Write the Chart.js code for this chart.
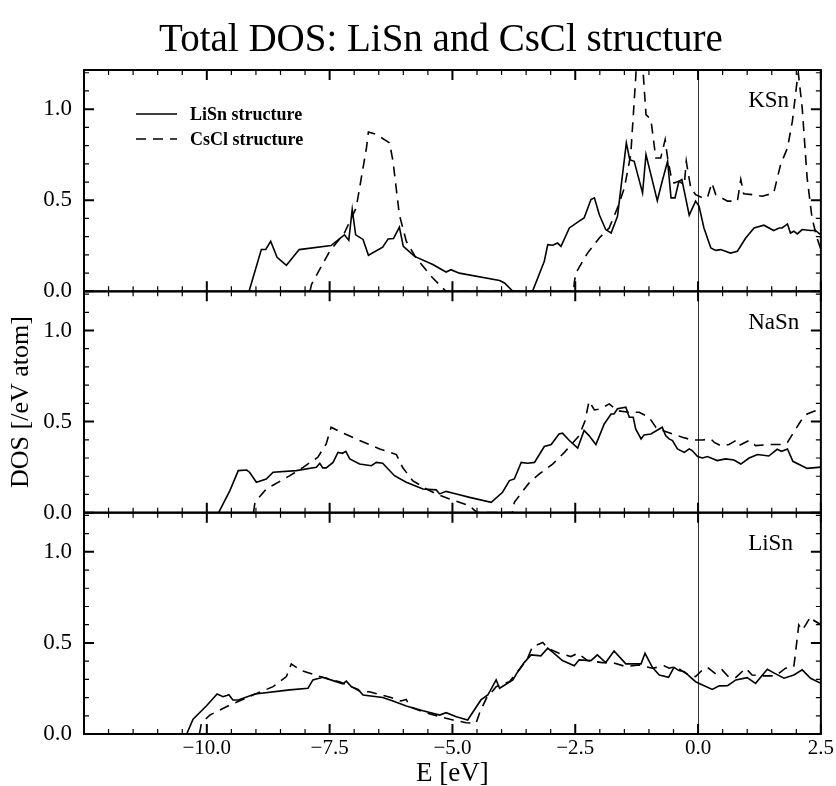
<!DOCTYPE html>
<html>
<head>
<meta charset="utf-8">
<title>Total DOS: LiSn and CsCl structure</title>
<script src="https://cdn.jsdelivr.net/npm/chart.js@4.4.1/dist/chart.umd.min.js"></script>
<style>
  html, body { margin: 0; padding: 0; background: #fff; }
  canvas { display: block; }
</style>
</head>
<body>
<canvas id="dos-chart" width="836" height="786"></canvas>
<script>
// Series and panel names
const chartTitle = 'Total DOS: LiSn and CsCl structure';
const seriesNames = ['LiSn structure', 'CsCl structure'];
const panelNames = ['KSn', 'NaSn', 'LiSn'];

// Tick labels
const xTickValues = [-10, -7.5, -5, -2.5, 0, 2.5];
const yTickValues = [0, 0.5, 1.0];

// [E (eV), DOS], one list per curve
const kSnLiSn = [[-9.14,0],[-8.89,0.23],[-8.80,0.23],[-8.70,0.275],[-8.57,0.187],[-8.38,0.143],[-8.12,0.229],[-7.47,0.251],
  [-7.20,0.31],[-7.11,0.28],[-7.04,0.45],[-6.97,0.31],[-6.82,0.285],[-6.71,0.198],[-6.42,0.242],[-6.31,0.287],[-6.20,0.29],
  [-6.08,0.353],[-6.00,0.247],[-5.77,0.192],[-5.40,0.147],[-5.13,0.106],[-5.03,0.119],[-4.86,0.10],[-4.04,0.059],[-3.94,0.046],
  [-3.77,0],[-3.37,0],[-3.13,0.165],[-3.06,0.256],[-2.96,0.253],[-2.86,0.265],[-2.79,0.247],[-2.62,0.348],[-2.42,0.385],
  [-2.32,0.403],[-2.18,0.504],[-2.11,0.513],[-2.01,0.42],[-1.88,0.339],[-1.77,0.32],[-1.64,0.412],[-1.46,0.815],[-1.39,0.723],
  [-1.30,0.714],[-1.13,0.54],[-1.06,0.751],[-0.83,0.498],[-0.73,0.604],[-0.62,0.714],[-0.55,0.513],[-0.47,0.513],[-0.39,0.604],
  [-0.33,0.614],[-0.18,0.418],[-0.05,0.495],[0.02,0.467],[0.12,0.348],[0.26,0.238],[0.36,0.225],[0.46,0.229],[0.66,0.21],
  [0.80,0.22],[0.97,0.293],[1.14,0.348],[1.34,0.363],[1.54,0.334],[1.65,0.348],[1.71,0.348],[1.82,0.37],[1.88,0.32],[1.95,0.33],
  [2.02,0.315],[2.12,0.339],[2.29,0.334],[2.39,0.334],[2.5,0.31]];

const kSnCsCl = [[-7.90,0],[-7.87,0.037],[-7.50,0.22],[-7.20,0.32],[-6.96,0.458],[-6.75,0.787],[-6.71,0.875],[-6.55,0.861],
  [-6.28,0.815],[-6.21,0.714],[-6.08,0.42],[-5.94,0.275],[-5.74,0.183],[-5.40,0.073],[-5.13,0],[-2.53,0],[-2.52,0.046],
  [-2.49,0.10],[-2.25,0.21],[-2.01,0.293],[-1.81,0.348],[-1.64,0.458],[-1.50,0.568],[-1.37,0.751],[-1.27,1.17],[-1.21,1.45],
  [-1.13,1.25],[-1.06,0.97],[-0.96,0.943],[-0.86,0.732],[-0.76,0.732],[-0.67,0.833],[-0.62,0.732],[-0.55,0.632],[-0.49,0.595],
  [-0.39,0.604],[-0.28,0.586],[-0.24,0.714],[-0.15,0.568],[-0.05,0.531],[0.09,0.513],[0.19,0.513],[0.28,0.595],[0.36,0.531],
  [0.60,0.495],[0.80,0.495],[0.87,0.614],[0.93,0.535],[1.10,0.531],[1.31,0.522],[1.54,0.54],[1.68,0.696],[1.82,0.787],
  [1.92,0.934],[2.02,1.163],[2.04,1.2],[2.12,1.007],[2.22,0.623],[2.32,0.403],[2.42,0.293],[2.5,0.23]];

const naSnLiSn = [[-9.76,0],[-9.53,0.121],[-9.36,0.231],[-9.19,0.234],[-9.13,0.222],[-8.99,0.167],[-8.79,0.185],[-8.65,0.222],
  [-8.18,0.231],[-7.77,0.249],[-7.70,0.271],[-7.64,0.246],[-7.57,0.246],[-7.43,0.276],[-7.33,0.331],[-7.24,0.326],[-7.17,0.337],
  [-7.09,0.295],[-6.89,0.267],[-6.65,0.258],[-6.55,0.276],[-6.42,0.271],[-6.18,0.203],[-5.94,0.167],[-5.60,0.130],[-5.33,0.125],
  [-5.26,0.103],[-5.13,0.117],[-4.92,0.103],[-4.65,0.084],[-4.21,0.057],[-3.98,0.112],[-3.84,0.176],[-3.74,0.185],[-3.60,0.276],
  [-3.47,0.271],[-3.33,0.276],[-3.13,0.363],[-2.99,0.374],[-2.83,0.432],[-2.76,0.436],[-2.62,0.396],[-2.45,0.355],[-2.32,0.451],
  [-2.22,0.423],[-2.08,0.374],[-1.91,0.487],[-1.77,0.542],[-1.71,0.542],[-1.64,0.57],[-1.47,0.579],[-1.40,0.524],[-1.32,0.524],
  [-1.27,0.46],[-1.16,0.405],[-1.10,0.427],[-0.96,0.432],[-0.73,0.469],[-0.66,0.423],[-0.59,0.405],[-0.52,0.396],[-0.42,0.35],
  [-0.28,0.331],[-0.18,0.35],[-0.12,0.341],[-0.01,0.308],[0.09,0.300],[0.19,0.308],[0.39,0.286],[0.56,0.295],[0.73,0.289],
  [0.87,0.267],[1.04,0.300],[1.21,0.319],[1.44,0.311],[1.61,0.348],[1.70,0.337],[1.82,0.35],[1.93,0.282],[2.22,0.243],[2.5,0.25]];

const naSnCsCl = [[-9.05,0],[-9.02,0.057],[-8.79,0.13],[-8.31,0.203],[-8.04,0.249],[-7.74,0.304],[-7.57,0.377],[-7.47,0.469],
  [-7.26,0.441],[-6.89,0.396],[-6.48,0.35],[-6.14,0.319],[-6.01,0.246],[-5.81,0.176],[-5.53,0.13],[-5.33,0.103],[-5.06,0.075],
  [-4.65,0.038],[-4.50,0],[-3.78,0],[-3.74,0.057],[-3.43,0.167],[-3.23,0.213],[-2.96,0.267],[-2.72,0.331],[-2.42,0.423],
  [-2.30,0.505],[-2.22,0.612],[-2.11,0.564],[-1.98,0.57],[-1.81,0.597],[-1.64,0.56],[-1.40,0.551],[-1.20,0.551],[-1.00,0.524],
  [-0.86,0.469],[-0.73,0.451],[-0.52,0.432],[-0.32,0.414],[-0.12,0.399],[0.09,0.399],[0.26,0.405],[0.33,0.386],[0.46,0.368],
  [0.63,0.374],[0.77,0.396],[0.83,0.368],[1.04,0.396],[1.17,0.368],[1.44,0.374],[1.71,0.374],[1.82,0.386],[1.99,0.46],
  [2.12,0.515],[2.22,0.542],[2.36,0.557],[2.42,0.56],[2.5,0.53]];

const liSnLiSn = [[-10.41,0],[-10.28,0.081],[-10.01,0.154],[-9.79,0.22],[-9.67,0.205],[-9.55,0.216],[-9.47,0.187],[-9.36,0.187],
  [-9.02,0.22],[-8.31,0.242],[-7.94,0.251],[-7.84,0.297],[-7.64,0.311],[-7.43,0.293],[-7.23,0.275],[-7.16,0.29],[-7.06,0.26],
  [-6.92,0.245],[-6.82,0.214],[-6.42,0.2],[-6.21,0.181],[-5.94,0.154],[-5.60,0.128],[-5.26,0.104],[-5.13,0.117],[-4.92,0.095],
  [-4.69,0.077],[-4.42,0.187],[-4.28,0.214],[-4.11,0.297],[-4.04,0.251],[-3.77,0.297],[-3.67,0.342],[-3.54,0.392],[-3.40,0.434],
  [-3.20,0.429],[-3.06,0.471],[-2.93,0.443],[-2.76,0.403],[-2.52,0.375],[-2.42,0.407],[-2.18,0.403],[-2.05,0.434],[-1.88,0.392],
  [-1.71,0.456],[-1.47,0.385],[-1.16,0.385],[-1.08,0.443],[-0.93,0.366],[-0.79,0.324],[-0.60,0.311],[-0.49,0.366],[-0.39,0.348],
  [-0.28,0.342],[-0.05,0.287],[0.09,0.269],[0.29,0.245],[0.43,0.264],[0.60,0.265],[0.77,0.297],[1.00,0.309],[1.17,0.278],
  [1.41,0.355],[1.58,0.33],[1.75,0.306],[1.95,0.324],[2.12,0.352],[2.29,0.306],[2.5,0.278]];

const liSnCsCl = [[-10.15,0],[-10.11,0.059],[-9.94,0.104],[-9.53,0.159],[-9.06,0.214],[-8.65,0.26],[-8.38,0.315],[-8.28,0.385],
  [-8.08,0.348],[-7.64,0.311],[-7.30,0.287],[-7.09,0.264],[-6.86,0.232],[-6.69,0.232],[-6.25,0.2],[-6.05,0.181],[-5.94,0.19],
  [-5.87,0.15],[-5.60,0.122],[-5.26,0.095],[-4.99,0.077],[-4.72,0.062],[-4.52,0.059],[-4.45,0.114],[-4.31,0.196],[-4.11,0.26],
  [-3.84,0.287],[-3.64,0.352],[-3.47,0.416],[-3.37,0.48],[-3.16,0.502],[-3.06,0.471],[-2.83,0.443],[-2.59,0.425],[-2.45,0.443],
  [-2.25,0.403],[-1.95,0.392],[-1.74,0.392],[-1.47,0.37],[-1.20,0.379],[-0.93,0.361],[-0.69,0.374],[-0.59,0.361],[-0.45,0.37],
  [-0.25,0.333],[-0.05,0.315],[0.09,0.352],[0.19,0.366],[0.36,0.33],[0.49,0.352],[0.63,0.311],[0.77,0.311],[0.97,0.361],
  [1.10,0.324],[1.31,0.319],[1.58,0.319],[1.78,0.361],[1.95,0.37],[1.99,0.461],[2.05,0.599],[2.12,0.571],[2.19,0.599],
  [2.29,0.644],[2.36,0.623],[2.5,0.6]];

const SERIF = '"Liberation Serif", "Times New Roman", serif';
const Y_MAX = 1.215;
const DASH = [10, 7];

// panels from top to bottom
const panelAxes = ['yK', 'yNa', 'yLi'];
const panelSeries = [[kSnLiSn, kSnCsCl], [naSnLiSn, naSnCsCl], [liSnLiSn, liSnCsCl]];

const datasets = [];
panelAxes.forEach((axisId, p) => {
    panelSeries[p].forEach((points, s) => {
        datasets.push({
            label: panelNames[p] + ': ' + seriesNames[s],
            data: points.map(pt => ({ x: pt[0], y: pt[1] })),
            yAxisID: axisId,
            borderColor: '#000',
            borderWidth: 1.6,
            borderDash: s === 1 ? DASH : [],
            pointRadius: 0,
            tension: 0,
            fill: false
        });
    });
});

function panelAxis(showTitle) {
    return {
        type: 'linear',
        position: 'left',
        stack: 'dos',
        stackWeight: 1,
        min: 0,
        max: Y_MAX,
        offset: false,
        grid: { display: false, drawTicks: false },
        border: { display: false },
        afterFit: scale => { scale.width = 84; },
        afterBuildTicks: scale => { scale.ticks = yTickValues.map(v => ({ value: v })); },
        ticks: {
            color: '#000',
            padding: 12,
            font: { family: SERIF, size: 23 },
            callback: v => v.toFixed(1)
        },
        title: {
            display: showTitle,
            text: 'DOS [/eV atom]',
            color: '#000',
            font: { family: SERIF, size: 26 },
            padding: { top: 6, bottom: 0 }
        }
    };
}

// title, frame, inward ticks, E=0 line, panel names and the legend
const framePlugin = {
    id: 'dosFrame',
    beforeDatasetsDraw(chart) {
        const { ctx, chartArea, scales } = chart;
        const x0 = Math.round(scales.x.getPixelForValue(0)) + 0.5;
        ctx.save();
        ctx.strokeStyle = '#333';
        ctx.lineWidth = 1;
        ctx.beginPath();
        ctx.moveTo(x0, chartArea.top);
        ctx.lineTo(x0, chartArea.bottom);
        ctx.stroke();
        ctx.restore();
    },
    afterDatasetsDraw(chart) {
        const { ctx, scales } = chart;
        const xs = scales.x;
        ctx.save();
        ctx.strokeStyle = '#000';
        ctx.fillStyle = '#000';

        ctx.font = '39px ' + SERIF;
        ctx.textAlign = 'center';
        ctx.textBaseline = 'alphabetic';
        ctx.fillText(chartTitle, 441, 51);

        panelAxes.forEach((axisId, p) => {
            const ys = scales[axisId];
            for (let k = 0; k <= 30; k++) {
                const major = k % 5 === 0;
                const len = major ? 10 : 5;
                const px = xs.getPixelForValue(-12.5 + k * 0.5);
                ctx.lineWidth = major ? 2 : 1.2;
                ctx.beginPath();
                ctx.moveTo(px, ys.bottom);
                ctx.lineTo(px, ys.bottom - len);
                ctx.moveTo(px, ys.top);
                ctx.lineTo(px, ys.top + len);
                ctx.stroke();
            }
            for (let k = 0; k <= 12; k++) {
                const major = k % 5 === 0;
                const len = major ? 10 : 5;
                const py = ys.getPixelForValue(k / 10);
                ctx.lineWidth = major ? 2 : 1.2;
                ctx.beginPath();
                ctx.moveTo(xs.left, py);
                ctx.lineTo(xs.left + len, py);
                ctx.moveTo(xs.right, py);
                ctx.lineTo(xs.right - len, py);
                ctx.stroke();
            }
            ctx.lineWidth = 2;
            ctx.strokeRect(xs.left, ys.top, xs.right - xs.left, ys.bottom - ys.top);

            ctx.font = '23px ' + SERIF;
            ctx.textAlign = 'left';
            ctx.textBaseline = 'alphabetic';
            ctx.fillText(panelNames[p], xs.getPixelForValue(1.02), ys.getPixelForValue(1.01));
        });

        // legend inside the top panel
        const topAxis = scales[panelAxes[0]];
        const lx = xs.left + 52;
        const rows = [topAxis.top + 44, topAxis.top + 69];
        seriesNames.forEach((name, i) => {
            ctx.lineWidth = 1.6;
            ctx.setLineDash(i === 1 ? DASH : []);
            ctx.beginPath();
            ctx.moveTo(lx, rows[i]);
            ctx.lineTo(lx + 41, rows[i]);
            ctx.stroke();
            ctx.setLineDash([]);
            ctx.font = 'bold 18px ' + SERIF;
            ctx.textBaseline = 'middle';
            ctx.fillText(name, lx + 54, rows[i] + 1);
        });
        ctx.restore();
    }
};

const ctx = document.getElementById('dos-chart').getContext('2d');
new Chart(ctx, {
    type: 'line',
    data: { datasets: datasets },
    options: {
        responsive: false,
        animation: false,
        layout: { padding: { top: 70, right: 14 } },
        plugins: {
            legend: { display: false },
            tooltip: { enabled: false },
            title: { display: false }
        },
        scales: {
            x: {
                type: 'linear',
                min: -12.5,
                max: 2.5,
                grid: { display: false, drawTicks: false },
                border: { display: false },
                afterFit: scale => { scale.height = 52; },
                afterBuildTicks: scale => { scale.ticks = xTickValues.map(v => ({ value: v })); },
                ticks: {
                    color: '#000',
                    padding: 2,
                    maxRotation: 0,
                    autoSkip: false,
                    font: { family: SERIF, size: 21 },
                    callback: v => v.toFixed(1).replace('-', '\u2212')
                },
                title: {
                    display: true,
                    text: 'E [eV]',
                    color: '#000',
                    font: { family: SERIF, size: 27, lineHeight: 0.9 },
                    padding: 0
                }
            },
            // later-defined axes stack higher up
            yLi: panelAxis(false),
            yNa: panelAxis(true),
            yK: panelAxis(false)
        }
    },
    plugins: [framePlugin]
});
</script>
</body>
</html>
